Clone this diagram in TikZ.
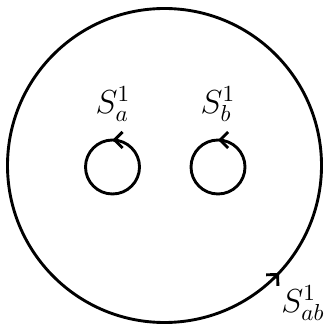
\documentclass[tikz,border=0pt]{standalone}
\usetikzlibrary{decorations.markings,arrows.meta}
\begin{document}
\begin{tikzpicture}[x=0.433pt,y=-0.433pt,
  loop/.style={line width=1.25pt,postaction=decorate,
    decoration={markings,mark=at position #1 with {\arrowreversed{Straight Barb[length=3.5pt,width=7pt,line width=1.25pt]}}}},
  lbl/.style={inner sep=0pt,font=\Large}]
\useasboundingbox (0,0) rectangle (323,327);
\coordinate (C) at (164.5,165.5);
\coordinate (A) at (112.5,167);
\coordinate (B) at (218,167);
\draw[loop=0.12] (C) circle[radius=157];
\draw[loop=0.75] (A) circle[radius=27];
\draw[loop=0.75] (B) circle[radius=27];
\node[lbl] (la) at (113,104) {$S^1_a$};
\node[lbl] (lb) at (218,104) {$S^1_b$};
\node[lbl] (lab) at (303,303) {$S^1_{ab}$};
\end{tikzpicture}
\end{document}
